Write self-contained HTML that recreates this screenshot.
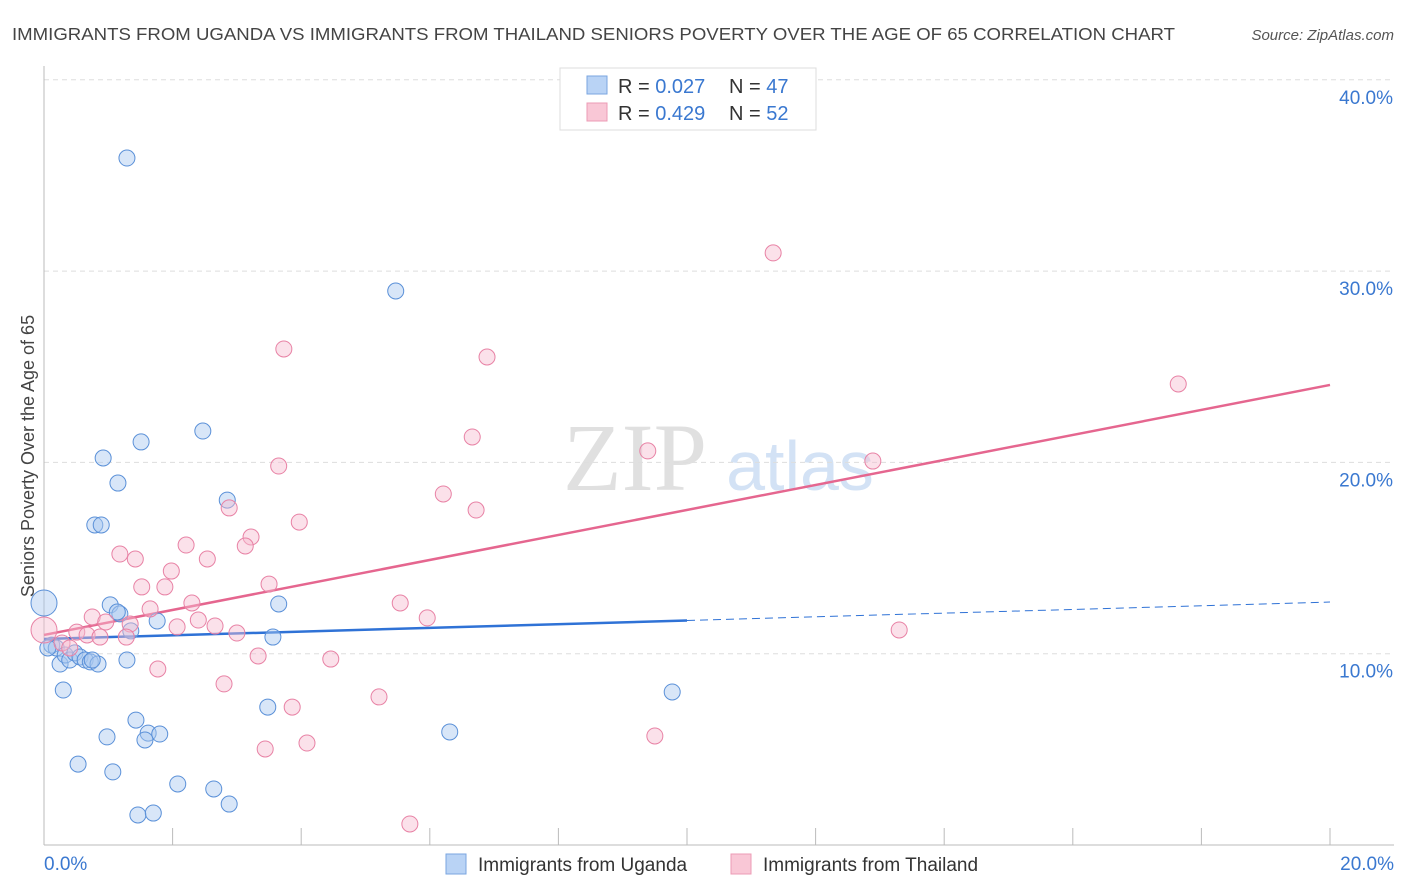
<!DOCTYPE html>
<html><head><meta charset="utf-8">
<style>
body{margin:0;background:#fff;font-family:"Liberation Sans",sans-serif;}
svg{display:block}
</style></head><body>
<svg id="chart" width="1406" height="892">
<text x="12" y="40" font-size="17.5" fill="#444" textLength="1163" lengthAdjust="spacingAndGlyphs">IMMIGRANTS FROM UGANDA VS IMMIGRANTS FROM THAILAND SENIORS POVERTY OVER THE AGE OF 65 CORRELATION CHART</text>
<text x="1394" y="40" font-size="15" fill="#555" font-style="italic" text-anchor="end">Source: ZipAtlas.com</text>
<g>
<text x="635" y="490" font-size="96" fill="#e0e0e0" text-anchor="middle" font-family="Liberation Serif,serif">ZIP</text>
<text x="800" y="490" font-size="70" fill="#d3e2f5" text-anchor="middle">atlas</text>
</g>
<g id="grid"></g>
<g id="axes"></g>
<g id="lines"></g>
<g id="points"></g>
<text transform="translate(34,456) rotate(-90)" font-size="18" fill="#444" text-anchor="middle">Seniors Poverty Over the Age of 65</text>
<g>
<rect x="560" y="68" width="256" height="62" fill="#fff" stroke="#ddd"/>
<rect x="587" y="76" width="20" height="18" fill="#b9d3f5" stroke="#7aa6e0"/>
<rect x="587" y="103" width="20" height="18" fill="#f9c7d6" stroke="#ec9bb5"/>
<text x="618" y="93" font-size="20" fill="#333">R = <tspan fill="#3a78d0">0.027</tspan></text>
<text x="729" y="93" font-size="20" fill="#333">N = <tspan fill="#3a78d0">47</tspan></text>
<text x="618" y="120" font-size="20" fill="#333">R = <tspan fill="#3a78d0">0.429</tspan></text>
<text x="729" y="120" font-size="20" fill="#333">N = <tspan fill="#3a78d0">52</tspan></text>
</g>
<g>
<rect x="446" y="854" width="20" height="20" fill="#b9d3f5" stroke="#7aa6e0"/>
<text x="478" y="871" font-size="19" fill="#333">Immigrants from Uganda</text>
<rect x="731" y="854" width="20" height="20" fill="#f9c7d6" stroke="#ec9bb5"/>
<text x="763" y="871" font-size="19" fill="#333">Immigrants from Thailand</text>
</g>
</svg>
<script>
const yTicks=[10,20,30,40];
const yTickLabels=["10.0%","20.0%","30.0%","40.0%"];
const xTickCount=10;
const xMaxPct=20;
const ugandaX=[1.29,5.47,1.51,2.47,0.92,1.15,2.85,0.79,0.89,1.03,1.18,1.14,1.76,1.35,3.65,3.56,0.12,0.19,0.25,0.33,0.40,0.48,0.56,0.64,0.72,0.84,1.29,0.30,9.77,1.43,3.48,0.98,1.62,1.80,1.57,6.31,0.53,1.07,2.08,2.64,2.88,1.46,1.70,0.0,0.06,0.75];
const ugandaY=[35.91,28.96,21.07,21.64,20.23,18.92,18.03,16.73,16.73,12.55,12.08,12.18,11.71,11.19,12.60,10.87,10.45,10.30,9.46,9.93,9.67,10.04,9.83,9.67,9.57,9.46,9.67,8.10,8.00,6.53,7.21,5.65,5.85,5.80,5.49,5.91,4.23,3.82,3.19,2.93,2.14,1.57,1.67,12.65,10.30,9.67];
const thaiX=[11.34,3.73,6.89,17.64,6.66,9.39,12.89,3.65,6.21,6.72,2.88,3.97,3.22,3.13,2.21,1.18,1.42,2.54,1.98,1.52,1.88,3.50,2.30,1.65,5.54,0.75,5.96,0.96,1.34,2.40,2.07,2.66,0.51,3.00,0.67,0.87,1.28,13.30,0.0,0.28,0.40,3.33,4.46,1.77,2.80,5.21,3.86,4.09,9.50,3.44,5.69];
const thaiY=[30.95,25.93,25.51,24.10,21.33,20.60,20.07,19.81,18.35,17.51,17.62,16.88,16.10,15.63,15.68,15.21,14.95,14.95,14.32,13.49,13.49,13.64,12.65,12.34,12.65,11.92,11.87,11.66,11.55,11.76,11.40,11.45,11.13,11.08,10.98,10.87,10.87,11.24,11.24,10.56,10.30,9.88,9.72,9.20,8.42,7.74,7.21,5.33,5.70,5.02,1.10];
const ugandaTrend=[10.77,12.70];
const thaiTrend=[10.98,24.05];
const ugandaSolidEnd=10;

const NS="http://www.w3.org/2000/svg";
const X0=44,X1=1330,Y0=845,PX_PER=19.13;
const sx=v=>X0+(X1-X0)*v/xMaxPct;
const sy=v=>Y0-v*PX_PER;
function mk(tag,attrs,parent){const e=document.createElementNS(NS,tag);for(const k in attrs)e.setAttribute(k,attrs[k]);parent.appendChild(e);return e;}
const grid=document.getElementById('grid'),axes=document.getElementById('axes'),lines=document.getElementById('lines'),pts=document.getElementById('points');
yTicks.forEach((t,i)=>{
 const l=mk('line',{x1:X0,x2:1394,y1:sy(t),y2:sy(t),stroke:'#ddd','stroke-dasharray':'5,4'},grid);
 
 
 const tx=mk('text',{x:1393,y:sy(t)+24,'font-size':19,fill:'#3a78d0','text-anchor':'end'},axes);
 tx.textContent=yTickLabels[i];
 
 
});
const ya=mk('line',{x1:X0,x2:X0,y1:66,y2:Y0,stroke:'#bbb'},axes);


const xa=mk('line',{x1:X0,x2:1394,y1:Y0,y2:Y0,stroke:'#bbb'},axes);


for(let i=0;i<=xTickCount;i++){
 const v=xMaxPct*i/xTickCount;
 const t=mk('line',{x1:sx(v),x2:sx(v),y1:828,y2:Y0,stroke:'#bbb'},axes);
 
 
}
[[0,"0.0%","start"],[xMaxPct,"20.0%","end"]].forEach(([v,s,a])=>{
 const t=mk('text',{x:a==='start'?sx(v):1394,y:870,'font-size':19,fill:'#3a78d0','text-anchor':a},axes);
 t.textContent=s;
 
 
});
function drawPts(xs,ys,fill,stroke,name){
 xs.forEach((x,i)=>{
  const big=(x===0);
  const c=mk('circle',{cx:sx(x),cy:sy(ys[i]),r:big?13:8,fill:fill,'fill-opacity':0.45,stroke:stroke,'stroke-width':1},pts);
  
  
 });
}
drawPts(ugandaX,ugandaY,'#a9c8f0','#5a90d8','point-uganda');
drawPts(thaiX,thaiY,'#f7bcd0','#e882a5','point-thailand');
const ly=v=>ugandaTrend[0]+(ugandaTrend[1]-ugandaTrend[0])*v/xMaxPct;
const b1=mk('line',{x1:sx(0),y1:sy(ly(0)),x2:sx(ugandaSolidEnd),y2:sy(ly(ugandaSolidEnd)),stroke:'#2f72d6','stroke-width':2.5},lines);


const b2=mk('line',{x1:sx(ugandaSolidEnd),y1:sy(ly(ugandaSolidEnd)),x2:sx(xMaxPct),y2:sy(ly(xMaxPct)),stroke:'#2f72d6','stroke-width':1,'stroke-dasharray':'8,5'},lines);


const p1=mk('line',{x1:sx(0),y1:sy(thaiTrend[0]),x2:sx(xMaxPct),y2:sy(thaiTrend[1]),stroke:'#e5668f','stroke-width':2.5},lines);


</script>
</body></html>
